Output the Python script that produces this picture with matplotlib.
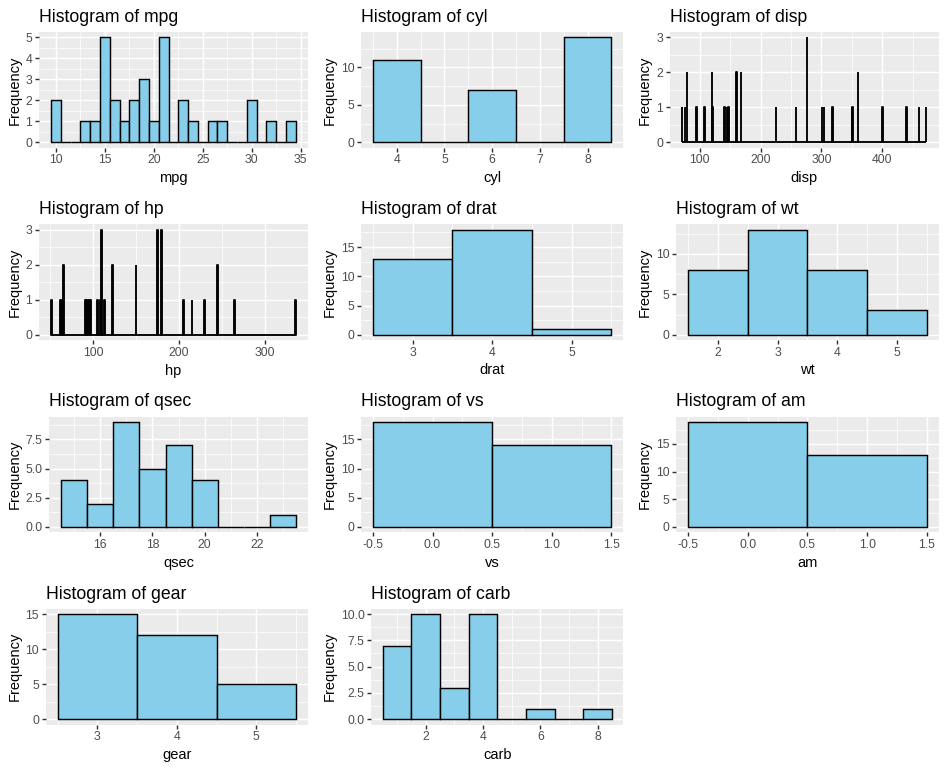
import numpy as np
import matplotlib
matplotlib.use('Agg')
import matplotlib.pyplot as plt
from matplotlib.ticker import MultipleLocator, FormatStrFormatter

plt.rcParams['font.family'] = ['Liberation Sans', 'DejaVu Sans']
plt.rcParams['axes.unicode_minus'] = False

# ---- data: histogram bins (binwidth = 1), centre of each non-empty bin and its count ----
mpg_centers = [10, 13, 14, 15, 16, 17, 18, 19, 20, 21, 23, 24, 26, 27, 30, 32, 34]
mpg_counts = [2, 1, 1, 5, 2, 1, 2, 3, 1, 5, 2, 1, 1, 1, 2, 1, 1]

cyl_centers = [4, 6, 8]
cyl_counts = [11, 7, 14]

disp_centers = [71, 76, 79, 95, 108, 120, 121, 141, 145, 147, 160, 168, 225, 258,
                276, 301, 304, 318, 350, 351, 360, 400, 440, 460, 472]
disp_counts = [1, 1, 2, 1, 1, 2, 1, 1, 1, 1, 2, 2, 1, 1,
               3, 1, 1, 1, 1, 1, 2, 1, 1, 1, 1]

hp_centers = [52, 62, 65, 66, 91, 93, 95, 97, 105, 109, 110, 113, 123, 150,
              175, 180, 205, 215, 230, 245, 264, 335]
hp_counts = [1, 1, 1, 2, 1, 1, 1, 1, 1, 1, 3, 1, 2, 2,
             3, 3, 1, 1, 1, 2, 1, 1]

drat_centers = [3, 4, 5]
drat_counts = [13, 18, 1]

wt_centers = [2, 3, 4, 5]
wt_counts = [8, 13, 8, 3]

qsec_centers = [15, 16, 17, 18, 19, 20, 23]
qsec_counts = [4, 2, 9, 5, 7, 4, 1]

vs_centers = [0, 1]
vs_counts = [18, 14]

am_centers = [0, 1]
am_counts = [19, 13]

gear_centers = [3, 4, 5]
gear_counts = [15, 12, 5]

carb_centers = [1, 2, 3, 4, 6, 8]
carb_counts = [7, 10, 3, 10, 1, 1]

variables = ['mpg', 'cyl', 'disp', 'hp', 'drat', 'wt', 'qsec', 'vs', 'am', 'gear', 'carb']
data = {
    'mpg': (mpg_centers, mpg_counts), 'cyl': (cyl_centers, cyl_counts),
    'disp': (disp_centers, disp_counts), 'hp': (hp_centers, hp_counts),
    'drat': (drat_centers, drat_counts), 'wt': (wt_centers, wt_counts),
    'qsec': (qsec_centers, qsec_counts), 'vs': (vs_centers, vs_counts),
    'am': (am_centers, am_counts), 'gear': (gear_centers, gear_counts),
    'carb': (carb_centers, carb_counts),
}

# axis break steps and label formats
x_step = {'mpg': 5, 'cyl': 1, 'disp': 100, 'hp': 100, 'drat': 1, 'wt': 1,
          'qsec': 2, 'vs': 0.5, 'am': 0.5, 'gear': 1, 'carb': 2}
y_step = {'mpg': 1, 'cyl': 5, 'disp': 1, 'hp': 1, 'drat': 5, 'wt': 5,
          'qsec': 2.5, 'vs': 5, 'am': 5, 'gear': 5, 'carb': 2.5}
x_fmt = {v: '%d' for v in variables}
x_fmt.update({'vs': '%.1f', 'am': '%.1f'})
y_fmt = {v: '%d' for v in variables}
y_fmt.update({'qsec': '%.1f', 'carb': '%.1f'})

# ---- figure ----
W, H = 946, 769
DPI = 96
fig = plt.figure(figsize=(W / DPI, H / DPI), dpi=DPI)
renderer = fig.canvas.get_renderer()

cell_w, cell_h = W / 3.0, H / 4.0
FILL = '#87CEEB'
PANEL_BG = '#EBEBEB'
TICK_SIZE = 9.2

def text_width(s, size):
    t = fig.text(0, 0, s, fontsize=size)
    w = t.get_window_extent(renderer).width
    t.remove()
    return w

for i, var in enumerate(variables):
    r, c = divmod(i, 3)
    cx, cy = c * cell_w, r * cell_h
    centers, counts = data[var]
    lo, hi = min(centers), max(centers)
    full_centers = np.arange(lo, hi + 1)
    lookup = dict(zip(centers, counts))
    full_counts = np.array([lookup.get(k, 0) for k in full_centers])

    xmin, xmax = lo - 0.5, hi + 0.5
    xr = xmax - xmin
    ymax = max(counts)
    xlim = (xmin - 0.05 * xr, xmax + 0.05 * xr)
    ylim = (-0.05 * ymax, 1.05 * ymax)

    ys = y_step[var]
    yt = np.arange(0, ylim[1] + 1e-9, ys)
    ylabels = [y_fmt[var] % v for v in yt]
    lw = max(text_width(s, TICK_SIZE) for s in ylabels)

    pl = cx + 32.0 + lw
    pr = cx + cell_w - 7.3
    pt = cy + 32.0
    pb = cy + cell_h - 44.5

    ax = fig.add_axes([pl / W, 1 - pb / H, (pr - pl) / W, (pb - pt) / H])
    ax.set_facecolor(PANEL_BG)
    for s in ax.spines.values():
        s.set_visible(False)
    narrow = len(full_centers) > 100
    ax.bar(full_centers, full_counts, width=1, color=FILL, edgecolor='black',
           linewidth=1.4 if narrow else 1.07, joinstyle='round' if narrow else 'miter',
           zorder=3)
    ax.set_xlim(*xlim)
    ax.set_ylim(*ylim)
    ax.xaxis.set_major_locator(MultipleLocator(x_step[var]))
    ax.xaxis.set_minor_locator(MultipleLocator(x_step[var] / 2))
    ax.yaxis.set_major_locator(MultipleLocator(ys))
    ax.yaxis.set_minor_locator(MultipleLocator(ys / 2))
    ax.xaxis.set_major_formatter(FormatStrFormatter(x_fmt[var]))
    ax.yaxis.set_major_formatter(FormatStrFormatter(y_fmt[var]))
    ax.grid(which='major', color='white', linewidth=1.07, zorder=0)
    ax.grid(which='minor', color='white', linewidth=0.53, zorder=0)
    ax.set_axisbelow(True)
    ax.tick_params(which='major', direction='out', length=2.75, width=1.07,
                   color='#333333', pad=2.2, labelsize=TICK_SIZE, labelcolor='#4D4D4D')
    ax.tick_params(which='minor', length=0)

    fig.text(pl / W, 1 - (pt - 10) / H, 'Histogram of ' + var, fontsize=13.2,
             ha='left', va='baseline', color='black')
    fig.text((cx + 14.5) / W, 1 - ((pt + pb) / 2) / H, 'Frequency', rotation=90,
             fontsize=11, ha='center', va='center', color='black')
    fig.text(((pl + pr) / 2) / W, 1 - (cy + cell_h - 10) / H, var, fontsize=11,
             ha='center', va='baseline', color='black')

fig.savefig('out.png', dpi=DPI, facecolor='white')
